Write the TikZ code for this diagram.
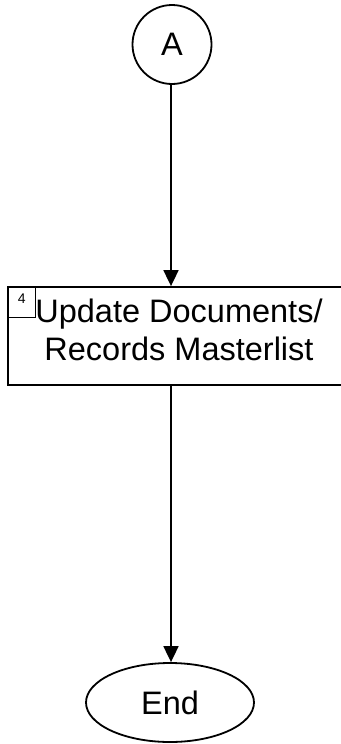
\documentclass[tikz,border=0pt]{standalone}
\usepackage{fontspec}
\setmainfont{Liberation Sans}
\usetikzlibrary{arrows.meta,shapes.geometric}

\tikzset{
  flow/.style={line width=1.8pt, -{Triangle[width=15pt,length=16pt]}},
  connector/.style={circle, draw, line width=1.8pt, minimum size=79pt, inner sep=0pt,
    font=\fontsize{32.5}{38}\selectfont},
  process/.style={rectangle, draw, line width=1.8pt, minimum width=342pt, minimum height=98pt,
    align=center, font=\fontsize{32.5}{38}\selectfont},
  terminal/.style={ellipse, draw, line width=1.8pt, minimum width=168pt, minimum height=79pt,
    inner sep=0pt, font=\fontsize{32.5}{38}\selectfont},
  stepno/.style={rectangle, draw, line width=1.2pt, minimum width=28pt, minimum height=31pt,
    inner sep=0pt, anchor=north west, text height=10pt, text depth=8pt,
    font=\fontsize{14}{16}\selectfont}
}

\begin{document}
\begin{tikzpicture}[x=1pt, y=-1pt]
  \useasboundingbox (0,0) rectangle (340,744);

  \node[connector] (conA) at (172,44.5) {A};
  \node[process] (task4) at (179,336) {Update Documents/\\Records Masterlist\rule[-12pt]{0pt}{12pt}};
  \node[stepno] (num4) at (task4.north west) {4};
  \node[terminal] (finish) at (170,702.5) {End};

  \draw[flow] (conA.south -| 171,0) -- (171,0 |- task4.north);
  \draw[flow] (171,0 |- task4.south) -- (171,0 |- finish.north);
\end{tikzpicture}
\end{document}
